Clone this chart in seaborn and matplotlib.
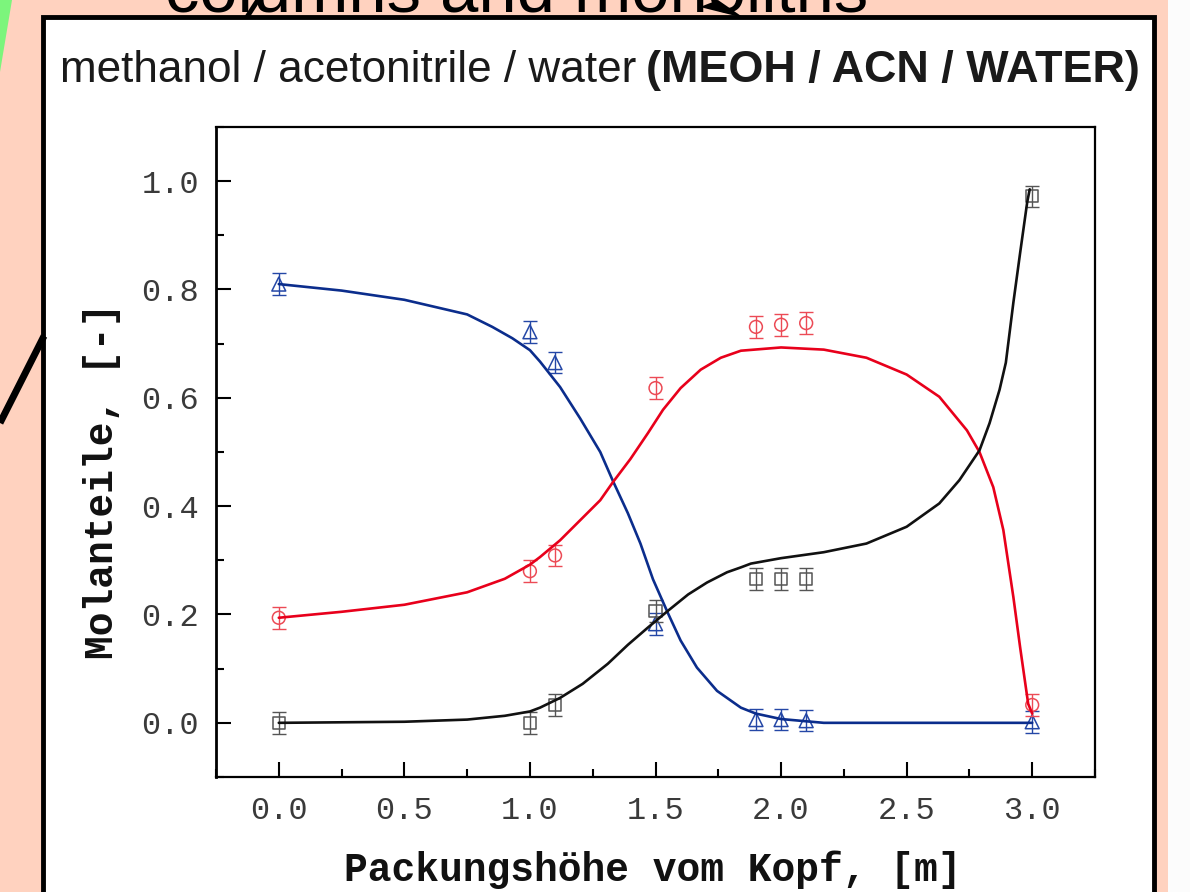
import matplotlib
matplotlib.use("Agg")
import matplotlib.pyplot as plt
from matplotlib.patches import Rectangle, Polygon
from matplotlib.lines import Line2D
from matplotlib.ticker import MultipleLocator
import seaborn as sns

# ---------------- data ----------------
x_meas = [0.0, 1.0, 1.1, 1.5, 1.9, 2.0, 2.1, 3.0]
tri_meas = [0.81, 0.722, 0.665, 0.183, 0.006, 0.006, 0.004, 0.002]
circ_meas = [0.194, 0.28, 0.309, 0.618, 0.731, 0.735, 0.738, 0.033]
sq_meas = [0.0, 0.0, 0.033, 0.207, 0.266, 0.265, 0.265, 0.972]
meas_err = [0.02, 0.02, 0.02, 0.02, 0.02, 0.02, 0.02, 0.02]

blue_x = [0.0, 0.25, 0.5, 0.75, 0.85, 0.93, 1.0, 1.04, 1.12, 1.2, 1.28, 1.33, 1.39,
          1.44, 1.49, 1.55, 1.60, 1.665, 1.745, 1.84, 1.90, 2.0, 2.17, 2.5, 3.0]
blue_y = [0.81, 0.798, 0.781, 0.754, 0.731, 0.71, 0.688, 0.667, 0.62, 0.562, 0.5,
          0.447, 0.387, 0.331, 0.265, 0.202, 0.152, 0.102, 0.059, 0.028, 0.017,
          0.007, 0.0, 0.0, 0.0]

red_x = [0.0, 0.25, 0.5, 0.75, 0.9, 1.0, 1.04, 1.12, 1.2, 1.28, 1.33, 1.40, 1.47,
         1.53, 1.60, 1.68, 1.76, 1.84, 2.0, 2.17, 2.34, 2.5, 2.63, 2.74, 2.79,
         2.845, 2.885, 2.905, 2.925, 2.952, 2.984, 3.0]
red_y = [0.194, 0.205, 0.218, 0.241, 0.266, 0.292, 0.306, 0.337, 0.374, 0.411,
         0.444, 0.487, 0.535, 0.578, 0.618, 0.652, 0.674, 0.687, 0.693, 0.689,
         0.674, 0.643, 0.602, 0.54, 0.50, 0.435, 0.356, 0.294, 0.232, 0.139,
         0.035, 0.017]

black_x = [0.0, 0.5, 0.75, 0.9, 1.0, 1.04, 1.12, 1.21, 1.31, 1.39, 1.47, 1.55,
           1.63, 1.705, 1.785, 1.84, 1.88, 2.0, 2.17, 2.34, 2.5, 2.63, 2.71, 2.79,
           2.83, 2.87, 2.895, 2.925, 2.952, 2.98, 2.99]
black_y = [0.0, 0.002, 0.006, 0.013, 0.021, 0.028, 0.046, 0.072, 0.109, 0.144,
           0.176, 0.207, 0.237, 0.259, 0.278, 0.287, 0.294, 0.304, 0.315, 0.331,
           0.362, 0.405, 0.448, 0.503, 0.553, 0.615, 0.665, 0.776, 0.868, 0.961,
           0.985]

x_ticks = [0.0, 0.5, 1.0, 1.5, 2.0, 2.5, 3.0]
y_ticks = [0.0, 0.2, 0.4, 0.6, 0.8, 1.0]
x_label = "Packungshöhe vom Kopf, [m]"
y_label = "Molanteile, [-]"
title_normal = "methanol / acetonitrile / water"
title_bold = "(MEOH / ACN / WATER)"
slide_title = "columns and monoliths"

# ---------------- style ----------------
sns.set_style("ticks")
plt.rcParams["font.family"] = ["Liberation Sans", "DejaVu Sans"]

W, H = 1190, 892
fig = plt.figure(figsize=(W / 100, H / 100), dpi=100)
fig.patch.set_facecolor("#FFD2BF")

# background / slide decoration axes in pixel coordinates
bg = fig.add_axes([0, 0, 1, 1], zorder=0)
bg.set_xlim(0, W)
bg.set_ylim(H, 0)
bg.axis("off")
bg.add_patch(Rectangle((0, 0), W, H, facecolor="#FFD2BF", edgecolor="none"))
bg.add_patch(Rectangle((1168, 0), W - 1168, H, facecolor="#FCFCFC", edgecolor="none"))
bg.add_patch(Polygon([(0, 0), (12, 0), (0, 72)], closed=True, facecolor="#7CF57C",
                     edgecolor="none"))
# white box with thick border
bg.add_patch(Rectangle((43, 17), 1111, 900, facecolor="white", edgecolor="black",
                       linewidth=3.5))
# decorative slide lines/arrows
bg.add_line(Line2D([0, 44], [423, 336], color="black", linewidth=5,
                   solid_capstyle="butt"))
bg.add_line(Line2D([258, 247], [0, 17], color="black", linewidth=3.5,
                   solid_capstyle="butt"))
bg.add_patch(Polygon([(700, 7), (744, 18), (718, 0)], closed=True,
                     facecolor="black", edgecolor="none"))
bg.text(517, 12, slide_title, fontsize=49.5, ha="center", va="baseline",
        color="black", family=["Liberation Sans", "DejaVu Sans"])
bg.text(60, 82, title_normal, fontsize=31.8, ha="left", va="baseline",
        color="#1a1a1a", family=["Liberation Sans", "DejaVu Sans"])
bg.text(1140, 82, title_bold, fontsize=32.3, ha="right", va="baseline",
        color="#1a1a1a", fontweight="bold", family=["Liberation Sans", "DejaVu Sans"])

# ---------------- main axes ----------------
ax = fig.add_axes([216 / W, (H - 777) / H, 879 / W, 650 / H], zorder=2)
ax.set_facecolor("white")

c_blue_line, c_blue_mk = "#0B2D8C", "#2447A6"
c_red_line, c_red_mk = "#E8001B", "#EC4A55"
c_blk_line, c_blk_mk = "#111111", "#555555"

# model curves
sns.lineplot(x=blue_x, y=blue_y, sort=False, estimator=None, color=c_blue_line,
             linewidth=1.9, ax=ax, zorder=4)
sns.lineplot(x=red_x, y=red_y, sort=False, estimator=None, color=c_red_line,
             linewidth=1.9, ax=ax, zorder=4)
sns.lineplot(x=black_x, y=black_y, sort=False, estimator=None, color=c_blk_line,
             linewidth=1.9, ax=ax, zorder=4)

# measurements with error bars
for yv, col, mk, s in [(tri_meas, c_blue_mk, "^", 100),
                       (circ_meas, c_red_mk, "o", 85),
                       (sq_meas, c_blk_mk, "s", 75)]:
    ax.errorbar(x_meas, yv, yerr=meas_err, fmt="none", ecolor=col, elinewidth=1.0,
                capsize=5.0, capthick=1.0, zorder=3)
    sns.scatterplot(x=x_meas, y=yv, marker=mk, s=s, facecolor="none", edgecolor=col,
                    linewidth=1.1, ax=ax, zorder=3)

ax.set_xlim(-0.25, 3.25)
ax.set_ylim(-0.1, 1.1)
ax.set_xticks(x_ticks)
ax.set_yticks(y_ticks)
ax.xaxis.set_minor_locator(MultipleLocator(0.25))
ax.yaxis.set_minor_locator(MultipleLocator(0.1))
ax.set_xticklabels([f"{v:.1f}" for v in x_ticks])
ax.set_yticklabels([f"{v:.1f}" for v in y_ticks])

ax.tick_params(which="major", direction="in", length=10.5, width=1.5,
               top=False, right=False, color="black", labelcolor="#3a3a3a",
               labelsize=23)
ax.tick_params(which="minor", direction="in", length=5.5, width=1.5,
               top=False, right=False, color="black")
ax.tick_params(axis="y", which="major", pad=12)
ax.tick_params(axis="x", which="major", pad=14)
for lab in ax.get_xticklabels() + ax.get_yticklabels():
    lab.set_family(["Liberation Mono", "DejaVu Sans Mono"])

for sp in ax.spines.values():
    sp.set_color("black")
    sp.set_linewidth(1.6)
ax.spines["left"].set_linewidth(2.0)

ax.set_xlabel(x_label, fontsize=28.5, fontweight="bold",
              family=["Liberation Mono", "DejaVu Sans Mono"], color="#111111")
ax.set_ylabel(y_label, fontsize=28.5, fontweight="bold",
              family=["Liberation Mono", "DejaVu Sans Mono"], color="#111111")
ax.xaxis.set_label_coords(0.4966, -0.113)
ax.yaxis.set_label_coords(-0.108, 0.455)
ax.grid(False)

fig.savefig("out.png", dpi=100, facecolor=fig.get_facecolor())
